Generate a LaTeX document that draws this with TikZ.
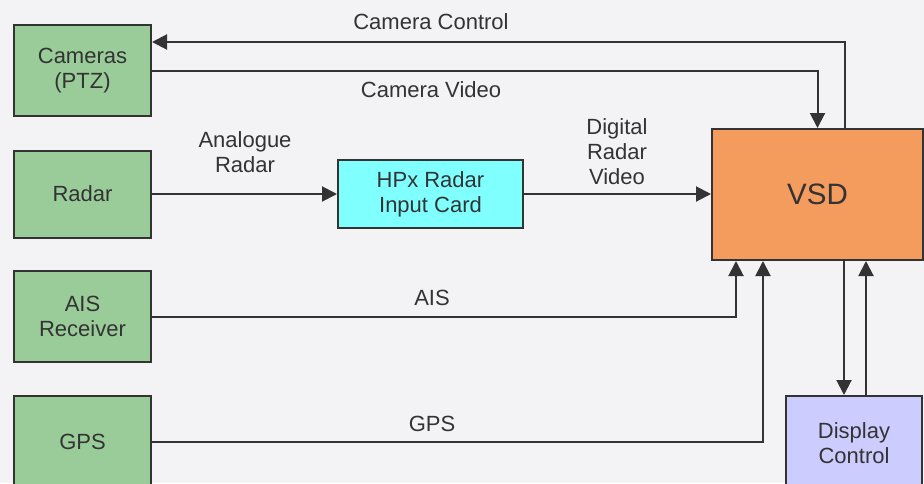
\documentclass[tikz,border=0pt]{standalone}
\usepackage{fontspec}
\setmainfont{Liberation Sans}
\usetikzlibrary{arrows.meta}
\definecolor{bgcol}{HTML}{F3F3F6}
\definecolor{inkcol}{HTML}{333333}
\definecolor{srccol}{HTML}{99CC99}
\definecolor{cardcol}{HTML}{80FFFF}
\definecolor{vsdcol}{HTML}{F49B5E}
\definecolor{dispcol}{HTML}{CCCCFF}
\begin{document}
\begin{tikzpicture}[x=1pt, y=-1pt,
		box/.style={draw=inkcol, line width=2pt, text=inkcol, align=center, inner sep=0pt,
			font=\fontsize{22}{25}\selectfont},
		lbl/.style={text=inkcol, align=center, inner sep=0pt, font=\fontsize{22}{25}\selectfont},
		arr/.style={draw=inkcol, line width=2pt, -{Triangle[length=15pt,width=15pt]}},
		wire/.style={draw=inkcol, line width=2pt}]
			\clip (0,0) rectangle (924,483);
			\fill[bgcol] (0,0) rectangle (924,483);
			% sources
			\node[box, fill=srccol, minimum width=137pt, minimum height=91pt] (cam) at (82.5, 70.5) {Cameras\\(PTZ)};
			\node[box, fill=srccol, minimum width=137pt, minimum height=87pt] (radar) at (82.5, 194) {Radar};
			\node[box, fill=srccol, minimum width=137pt, minimum height=91pt] (ais) at (82.5, 316.5) {AIS\\Receiver};
			\node[box, fill=srccol, minimum width=137pt, minimum height=92pt] (gps) at (82.5, 442) {GPS};
			% processing
			\node[box, fill=cardcol, minimum width=185pt, minimum height=68pt] (hpx) at (430.5, 194) {HPx Radar\\Input Card};
			\node[box, fill=vsdcol, minimum width=211pt, minimum height=131pt, font=\fontsize{29.5}{34}\selectfont] (vsd) at (817.5, 194.5) {VSD};
			\node[box, fill=dispcol, minimum width=136pt, minimum height=94pt] (disp) at (854, 443) {Display\\Control};
			% labels
			\node[lbl] (lcamctl) at (431, 22) {Camera Control};
			\node[lbl] (lcamvid) at (431, 90) {Camera Video};
			\node[lbl] (lana) at (245, 152) {Analogue\\Radar};
			\node[lbl] (ldig) at (617, 152) {Digital\\Radar\\Video};
			\node[lbl] (lais) at (432, 298) {AIS};
			\node[lbl] (lgps) at (432, 424) {GPS};
			% connectors
			\coordinate (ctl) at ([xshift=27.5pt]vsd.north);
			\coordinate (camin) at ([yshift=28.5pt]cam.east);
			\draw[arr] (ctl) |- (camin);
			\draw[arr] (cam.east) -| (vsd.north);
			\draw[arr] (radar.east) -- (hpx.west);
			\draw[arr] (hpx.east) -- (vsd.west |- hpx.east);
			\coordinate (aisin) at ([xshift=-81.5pt]vsd.south);
			\coordinate (gpsin) at ([xshift=-54.5pt]vsd.south);
			\draw[arr] (ais.east) -| (aisin);
			\draw[arr] (gps.east) -| (gpsin);
			\coordinate (dout) at ([xshift=26.5pt]vsd.south);
			\coordinate (din) at ([xshift=48.5pt]vsd.south);
			\draw[arr] (dout) -- (dout |- disp.north);
			\draw[arr] (din |- disp.north) -- (din);
			\end{tikzpicture}
\end{document}
